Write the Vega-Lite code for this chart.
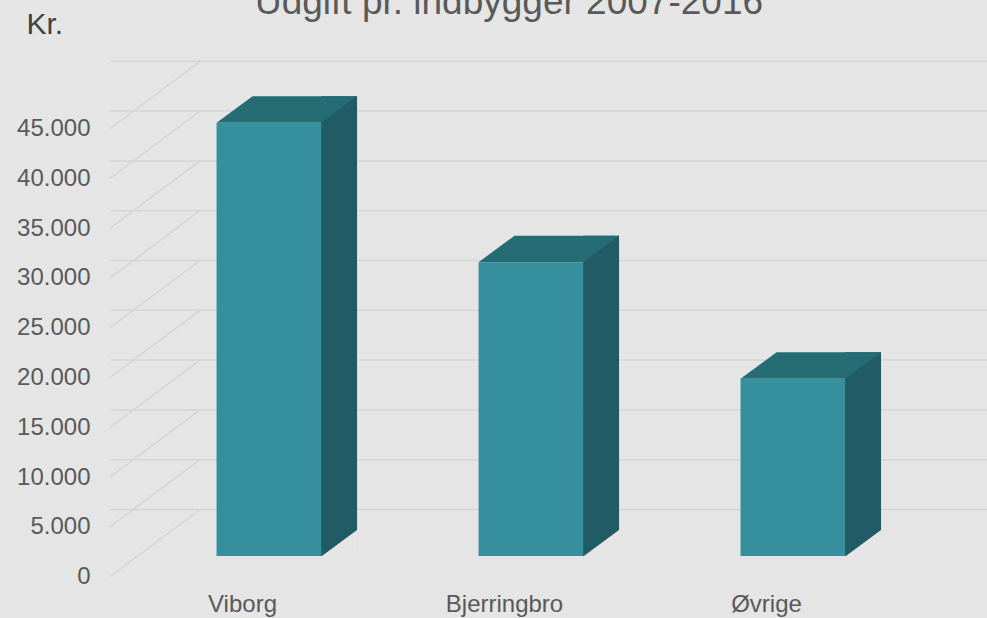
{
  "$schema": "https://vega.github.io/schema/vega-lite/v6.json",
  "width": 877,
  "height": 498,
  "autosize": {"type": "none"},
  "padding": {"left": 110, "top": 58, "right": 0, "bottom": 62},
  "background": "#e5e5e5",
  "config": {"view": {"stroke": null}, "font": "Liberation Sans"},
  "title": {
    "text": "Udgift pr. indbygger 2007-2016",
    "fontSize": 37,
    "font": "Liberation Sans",
    "fontWeight": "normal",
    "color": "#595959",
    "anchor": "middle",
    "frame": "group",
    "dx": -39.5,
    "baseline": "alphabetic",
    "offset": -42
  },
  "datasets": {
    "udgift": [
      {"kommune": "Viborg", "kr": 43500},
      {"kommune": "Bjerringbro", "kr": 29500},
      {"kommune": "Øvrige", "kr": 17800}
    ],
    "gitter": [
      {"kr": 0}, {"kr": 5000}, {"kr": 10000}, {"kr": 15000}, {"kr": 20000},
      {"kr": 25000}, {"kr": 30000}, {"kr": 35000}, {"kr": 40000}, {"kr": 45000}
    ]
  },
  "layer": [
    {
      "data": {"name": "gitter"},
      "mark": {"type": "rule", "color": "#d5d5d5", "strokeWidth": 1.5, "xOffset": 90, "x2Offset": 90, "yOffset": -46.5},
      "encoding": {
        "y": {
          "field": "kr",
          "type": "quantitative",
          "scale": {"domain": [0, 50000], "nice": false, "zero": true},
          "axis": {
            "values": [0, 5000, 10000, 15000, 20000, 25000, 30000, 35000, 40000, 45000],
            "labelExpr": "replace(format(datum.value, ',d'), ',', '.')",
            "domain": false,
            "ticks": false,
            "grid": false,
            "labelPadding": 20,
            "labelOffset": 20.7,
            "labelFontSize": 24,
            "labelColor": "#595959",
            "labelFont": "Liberation Sans",
            "title": "Kr.",
            "titleAngle": 0,
            "titleAlign": "left",
            "titleBaseline": "alphabetic",
            "titleX": -84,
            "titleY": -24.7,
            "titleFontSize": 30,
            "titleFontWeight": "normal",
            "titleColor": "#404040",
            "titleFont": "Liberation Sans"
          }
        }
      }
    },
    {
      "data": {"name": "gitter"},
      "mark": {"type": "rule", "color": "#d5d5d5", "strokeWidth": 1.5, "yOffset": 20.7, "y2Offset": -46.5, "x2Offset": 90},
      "encoding": {
        "x": {"value": 0},
        "x2": {"value": 0},
        "y": {"field": "kr", "type": "quantitative"},
        "y2": {"field": "kr"}
      }
    },
    {
      "data": {"name": "udgift"},
      "mark": {"type": "bar", "width": 36, "xOffset": 70.25, "yOffset": -26.5, "y2Offset": 0, "color": "#215b65"},
      "encoding": {
        "x": {"field": "kommune", "type": "nominal", "sort": null},
        "y": {"field": "kr", "type": "quantitative"},
        "y2": {"datum": 0}
      }
    },
    {
      "data": {"name": "udgift"},
      "mark": {"type": "point", "shape": "M52.4,0.6L88.9,0.6L88.9,-26.6Z", "size": 4, "filled": true, "color": "#e5e5e5", "opacity": 1, "strokeWidth": 0},
      "encoding": {
        "x": {"field": "kommune", "type": "nominal", "sort": null},
        "y": {"datum": 0, "type": "quantitative"}
      }
    },
    {
      "data": {"name": "udgift"},
      "mark": {"type": "point", "shape": "M-52.25,0L52.25,0L88.25,-26.5L-16.25,-26.5Z", "size": 4, "filled": true, "color": "#266c74", "opacity": 1, "strokeWidth": 0},
      "encoding": {
        "x": {"field": "kommune", "type": "nominal", "sort": null},
        "y": {"field": "kr", "type": "quantitative"}
      }
    },
    {
      "data": {"name": "udgift"},
      "mark": {"type": "bar", "width": 104.5, "color": "#358f9c"},
      "encoding": {
        "x": {
          "field": "kommune",
          "type": "nominal",
          "sort": null,
          "scale": {"paddingInner": 0.6, "paddingOuter": 0.4737, "align": 0.4287},
          "axis": {
            "domain": false,
            "ticks": false,
            "grid": false,
            "labelAngle": 0,
            "labelAlign": "center",
            "labelOffset": -26.3,
            "labelBaseline": "alphabetic",
            "labelPadding": 55.7,
            "labelFontSize": 24,
            "labelColor": "#595959",
            "labelFont": "Liberation Sans",
            "title": null
          }
        },
        "y": {"field": "kr", "type": "quantitative"}
      }
    }
  ]
}
